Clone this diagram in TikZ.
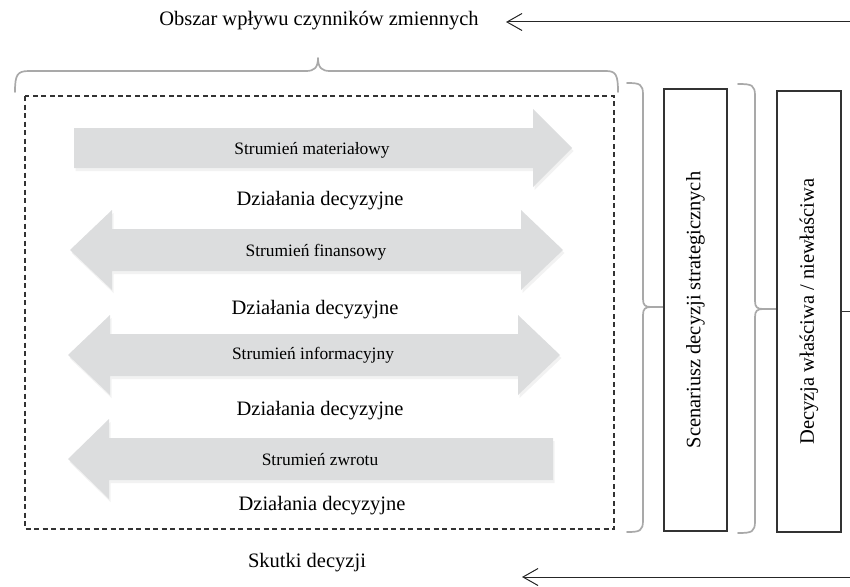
\documentclass[tikz,border=0pt]{standalone}
\usepackage{fontspec}
\setmainfont{Liberation Serif}
\usetikzlibrary{arrows.meta}
\definecolor{flowgray}{HTML}{DCDDDE}
\definecolor{bracegray}{HTML}{A9A9A9}
\definecolor{framegray}{HTML}{333333}
\def\fpA{(74,128) -- (533,128) -- (533,109) -- (572,148) -- (533,187) -- (533,168) -- (74,168) -- cycle}
\def\fpB{(70,250) -- (112,210) -- (112,229) -- (521,229) -- (521,210) -- (563,250) -- (521,290) -- (521,271) -- (112,271) -- (112,290) -- cycle}
\def\fpC{(68,355) -- (110,315) -- (110,334) -- (518,334) -- (518,315) -- (560,355) -- (518,395) -- (518,376) -- (110,376) -- (110,395) -- cycle}
\def\fpD{(68,459) -- (109,419) -- (109,438) -- (553,438) -- (553,480) -- (109,480) -- (109,499) -- cycle}
\begin{document}
\begin{tikzpicture}[x=1pt,y=-1pt,
  bigtxt/.style={font=\fontsize{20.5}{24}\selectfont, inner sep=0pt},
  smalltxt/.style={font=\fontsize{17.4}{20}\selectfont, inner sep=0pt},
  flow/.style={fill=flowgray},
  flowshadow/.style={fill=black, opacity=0.05},
  brace/.style={draw=bracegray, line width=1.7pt, line join=round, line cap=round},
  boxst/.style={draw=framegray, line width=1.5pt, inner sep=0pt},
  frame/.style={draw=framegray, line width=1.3pt, dash pattern=on 5pt off 3.5pt},
  conn/.style={draw=black!85, line width=1pt, -{Straight Barb[length=15pt,width=17pt,line width=1pt]}},
]
\useasboundingbox (0,0) rectangle (850,586);

% top and bottom captions with incoming arrows
\node[bigtxt] (obszar) at (319,21) {Obszar wpływu czynników zmiennych};
\coordinate (topR) at (850,22);
\coordinate (topL) at (506,22);
\draw[conn] (topR) -- (topL);

\node[bigtxt] (skutki) at (307,563) {Skutki decyzji};
\coordinate (botR) at (850,577);
\coordinate (botL) at (522,577);
\draw[conn] (botR) -- (botL);

% top brace
\draw[brace] (15,92) .. controls (15,75) and (17,71) .. (29,71) -- (306,71)
  .. controls (314,71) and (318,68) .. (318,58)
  .. controls (318,68) and (322,71) .. (330,71) -- (606,71)
  .. controls (616,71) and (618,75) .. (618,92);

% dashed frame
\draw[frame] (25,96) rectangle (614,529);

% flows: shadows
\begin{scope}[shift={(1.5,3)}]
\fill[flowshadow] \fpA;
\fill[flowshadow] \fpB;
\fill[flowshadow] \fpC;
\fill[flowshadow] \fpD;
\end{scope}
\fill[flow] \fpA;
\fill[flow] \fpB;
\fill[flow] \fpC;
\fill[flow] \fpD;

\node[smalltxt] (matl) at (312,150) {Strumień materiałowy};
\node[smalltxt] (fin) at (316,252) {Strumień finansowy};
\node[smalltxt] (info) at (313,355) {Strumień informacyjny};
\node[smalltxt] (zwrot) at (320,460) {Strumień zwrotu};

\node[bigtxt] (dz1) at (320,201) {Działania decyzyjne};
\node[bigtxt] (dz2) at (315,310) {Działania decyzyjne};
\node[bigtxt] (dz3) at (320,411) {Działania decyzyjne};
\node[bigtxt] (dz4) at (322,506) {Działania decyzyjne};

% right braces
\draw[brace] (627,83) .. controls (640,83) and (643,84) .. (643,95) -- (643,299)
  .. controls (643,305) and (645,307) .. (651,307) -- (663,307);
\draw[brace] (651,307) .. controls (645,307) and (643,309) .. (643,315) -- (643,520)
  .. controls (643,531) and (640,532) .. (627,532);

\draw[brace] (738,84) .. controls (752,84) and (755,85) .. (755,96) -- (755,301)
  .. controls (755,307) and (757,309) .. (763,309) -- (776,309);
\draw[brace] (763,309) .. controls (757,309) and (755,311) .. (755,317) -- (755,521)
  .. controls (755,532) and (752,533) .. (738,533);

% decision boxes
\node[boxst, bigtxt, draw=framegray, rotate=90, minimum width=442pt, minimum height=63pt] (scen) at (695.5,310) {Scenariusz decyzji strategicznych};
\node[boxst, bigtxt, draw=framegray, rotate=90, minimum width=441pt, minimum height=64pt] (decyz) at (809,311.5) {Decyzja właściwa / niewłaściwa};

\coordinate (edgeR) at (850,312);
\draw[draw=framegray, line width=1.2pt] (decyz.south) -- (decyz.south -| edgeR);
\end{tikzpicture}
\end{document}
